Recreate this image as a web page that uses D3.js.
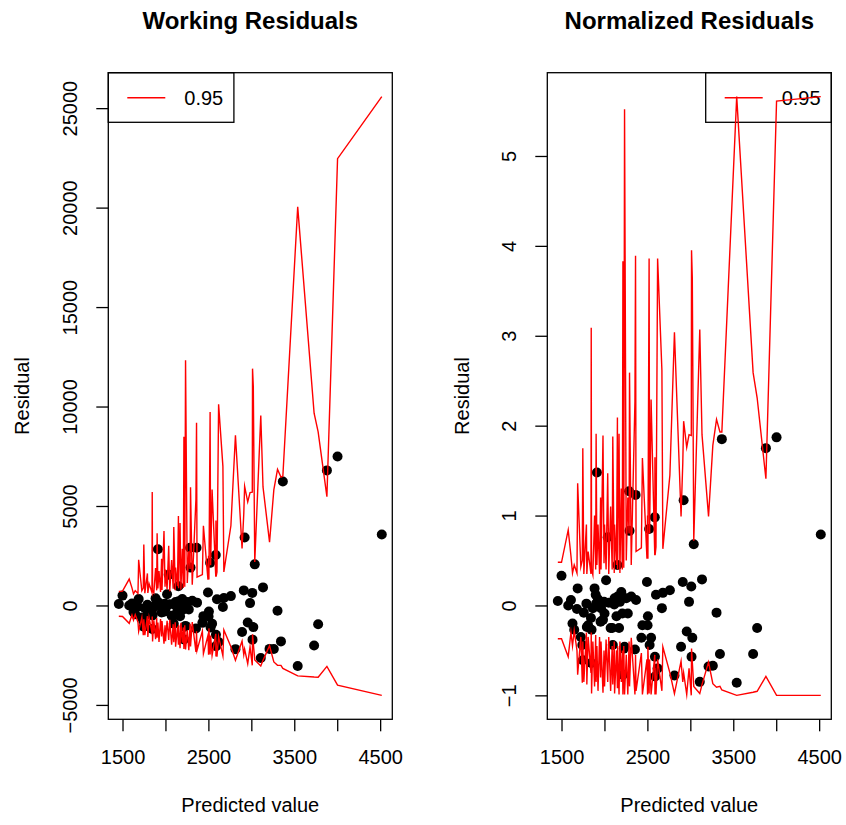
<!DOCTYPE html>
<html><head><meta charset="utf-8">
<script src="https://cdn.jsdelivr.net/npm/d3@7"></script>
<style>
body{margin:0;background:#fff}
svg{display:block}
text{font-family:"Liberation Sans",Arial,Helvetica,sans-serif;fill:#000}
</style>
</head><body>
<svg id="chart" width="846" height="825"></svg>
<script>
// ---------- data ----------
const predicted = [1457,1500,1578,1610,1628,1648,1680,1688,1725,1742,1748,1760,1790,1795,1810,1843,1846,1850,1865,1885,1898,1903,1912,1925,1943,1955,1960,1983,1995,2001,2019,2038,2050,2072,2090,2097,2114,2118,2140,2151,2153,2170,2180,2196,2208,2215,2225,2234,2254,2272,2287,2292,2312,2355,2362,2368,2430,2442,2495,2502,2506,2520,2526,2543,2586,2588,2590,2600,2619,2669,2680,2762,2815,2892,2912,2922,2958,2985,3011,3014,3023,3040,3110,3136,3212,3262,3305,3345,3367,3540,3731,3778,3880,4004,4519];

const workingResid = [73,495,0,97,-326,-445,-67,321,-604,-766,
-1066,-141,36,-431,-398,-258,-1181,-500,-56,358,
228,38,2830,135,-19,-352,-59,-317,80,-180,
565,1549,62,-518,-523,-923,21,169,-257,968,
215,-543,87,329,-199,-1706,-1068,-1028,180,-204,
2904,1902,231,-1154,2905,142,-875,-537,649,-550,
-301,2142,-1111,-915,2534,-1475,-2046,312,-1833,-80,
375,470,-2196,-1330,757,3419,-858,119,632,-1718,
-1088,2067,-2644,909,-2184,-2186,-264,-1806,6229,-3044,
-2015,-945,6790,7487,3570];

const normalizedResid = [0.05,0.33,0.00,0.06,-0.20,-0.27,-0.04,0.19,-0.35,-0.44,
-0.61,-0.08,0.02,-0.24,-0.22,-0.14,-0.64,-0.27,-0.03,0.19,
0.12,0.02,1.48,0.07,-0.01,-0.18,-0.03,-0.16,0.04,-0.09,
0.28,0.76,0.03,-0.25,-0.25,-0.44,0.01,0.08,-0.12,0.45,
0.10,-0.25,0.04,0.15,-0.09,-0.77,-0.48,-0.46,0.08,-0.09,
1.27,0.83,0.10,-0.49,1.23,0.06,-0.36,-0.22,0.26,-0.22,
-0.12,0.85,-0.44,-0.36,0.98,-0.57,-0.79,0.12,-0.70,-0.03,
0.14,0.17,-0.78,-0.46,0.26,1.17,-0.29,0.04,0.21,-0.57,
-0.36,0.68,-0.85,0.29,-0.68,-0.67,-0.08,-0.54,1.85,-0.86,
-0.54,-0.25,1.75,1.87,0.79];

const workingUpper = [699,720,1326,886,586,742,605,2296,742,871,
3059,616,1611,628,1086,645,5704,740,634,1885,
759,3635,860,1733,680,2346,784,3748,938,1801,
808,2996,718,2279,836,3942,761,1906,963,4496,
861,4145,785,2855,883,8483,935,12332,1127,2726,
1830,5936,1040,5346,9188,1421,1555,4005,1297,2502,
1303,9727,2021,5823,1448,4270,1450,1690,10109,6993,
1688,4005,8558,2863,4601,5990,5206,5672,5691,11905,
11004,2189,9548,5958,3180,5806,6841,6456,6498,20036,
9663,8727,5471,22462,25578];

const workingLower = [-539,-555,-899,-483,-733,-461,-840,-1300,-604,-1498,
-699,-1496,-537,-1580,-634,-1382,-554,-1813,-746,-1697,
-626,-1618,-860,-1829,-680,-1564,-784,-1924,-998,-1801,
-767,-1732,-718,-1968,-941,-1845,-846,-2076,-1070,-1979,
-969,-2148,-872,-1867,-1104,-2193,-1001,-2212,-1240,-2249,
-915,-2063,-832,-2331,-1299,-2250,-1288,-2418,-1497,-2477,
-1153,-2470,-1516,-2518,-1422,-2562,-1813,-2574,-1571,-2536,
-1233,-2072,-2759,-1793,-2475,-2192,-2928,-2090,-3011,-1447,
-1904,-2736,-3048,-2760,-2024,-2838,-3008,-3011,-3165,-3540,
-3600,-3608,-3065,-4004,-4519];

const normalizedUpper = [0.48,0.48,0.84,0.55,0.36,0.45,0.36,1.36,0.43,0.50,
1.75,0.35,0.90,0.35,0.60,0.35,3.09,0.40,0.34,1.00,
0.40,1.91,0.45,0.90,0.35,1.20,0.40,1.89,0.47,0.90,
0.40,1.47,0.35,1.10,0.40,1.88,0.36,0.90,0.45,2.09,
0.40,1.91,0.36,1.30,0.40,3.83,0.42,5.52,0.50,1.20,
0.80,2.59,0.45,2.27,3.89,0.60,0.64,1.64,0.52,1.00,
0.52,3.86,0.80,2.29,0.56,1.65,0.56,0.65,3.86,2.62,
0.63,1.45,3.04,0.99,1.58,2.05,1.76,1.90,1.89,3.95,
3.64,0.72,3.07,1.90,0.99,1.78,2.07,1.93,1.93,5.66,
2.59,2.31,1.41,5.61,5.66];

const normalizedLower = [-0.37,-0.37,-0.57,-0.30,-0.45,-0.28,-0.50,-0.77,-0.35,-0.86,
-0.40,-0.85,-0.30,-0.88,-0.35,-0.75,-0.30,-0.98,-0.40,-0.90,
-0.33,-0.85,-0.45,-0.95,-0.35,-0.80,-0.40,-0.97,-0.50,-0.90,
-0.38,-0.85,-0.35,-0.95,-0.45,-0.88,-0.40,-0.98,-0.50,-0.92,
-0.45,-0.99,-0.40,-0.85,-0.50,-0.99,-0.45,-0.99,-0.55,-0.99,
-0.40,-0.90,-0.36,-0.99,-0.55,-0.95,-0.53,-0.99,-0.60,-0.99,
-0.46,-0.98,-0.60,-0.99,-0.55,-0.99,-0.70,-0.99,-0.60,-0.95,
-0.46,-0.75,-0.98,-0.62,-0.85,-0.75,-0.99,-0.70,-1.00,-0.48,
-0.63,-0.90,-0.98,-0.88,-0.63,-0.87,-0.91,-0.90,-0.94,-1.00,
-0.965,-0.955,-0.79,-1.00,-1.00];

const xTickValues = [1500,2000,2500,3000,3500,4000,4500];
const xTickLabels = ["1500","","2500","","3500","","4500"];
const workingYTicks = [-5000,0,5000,10000,15000,20000,25000];
const normalizedYTicks = [-1,0,1,2,3,4,5];
const panelTitles = ["Working Residuals","Normalized Residuals"];
const xAxisTitle = "Predicted value";
const yAxisTitle = "Residual";
const legendLabel = "0.95";

// ---------- drawing ----------
const svg = d3.select("#chart");
const FS = 20;
const plotTop = 72.7, plotBottom = 719.3;

const panels = [
  {x0:108.3, x1:392.3, resid:workingResid, upper:workingUpper, lower:workingLower,
   yTicks:workingYTicks, title:panelTitles[0], legendLeft:true, yTitleX:22},
  {x0:547.3, x1:831.3, resid:normalizedResid, upper:normalizedUpper, lower:normalizedLower,
   yTicks:normalizedYTicks, title:panelTitles[1], legendLeft:false, yTitleX:462}
];

function padded(ext){ const r = ext[1]-ext[0]; return [ext[0]-0.04*r, ext[1]+0.04*r]; }
const fmt = d => d < 0 ? "\u2212" + Math.abs(d) : String(d);

panels.forEach(p => {
  const x = d3.scaleLinear().domain(padded(d3.extent(predicted))).range([p.x0, p.x1]);
  const allY = p.resid.concat(p.upper, p.lower);
  const y = d3.scaleLinear().domain(padded(d3.extent(allY))).range([plotBottom, plotTop]);
  const g = svg.append("g");

  // x axis
  const xa = g.append("g").attr("transform", `translate(0,${plotBottom})`)
    .call(d3.axisBottom(x).tickValues(xTickValues).tickSize(12)
      .tickFormat((d,i) => xTickLabels[i]));
  xa.select(".domain").remove();
  xa.selectAll(".tick line").attr("stroke","#000").attr("stroke-width",1.3);
  xa.selectAll(".tick text").attr("y",38).attr("dy","0.35em")
    .attr("font-size",FS).attr("font-family","Liberation Sans, Arial, sans-serif").attr("fill","#000");

  // y axis
  const ya = g.append("g").attr("transform", `translate(${p.x0},0)`)
    .call(d3.axisLeft(y).tickValues(p.yTicks).tickSize(12).tickFormat(fmt));
  ya.select(".domain").remove();
  ya.selectAll(".tick line").attr("stroke","#000").attr("stroke-width",1.3);
  ya.selectAll(".tick text").attr("transform","rotate(-90)")
    .attr("x",0).attr("y",-38).attr("dy","0.35em").attr("text-anchor","middle")
    .attr("font-size",FS).attr("font-family","Liberation Sans, Arial, sans-serif").attr("fill","#000");

  // legend
  const lw = 125.6, lh = 49.6;
  const lx = p.legendLeft ? p.x0 : p.x1 - lw;
  const lg = g.append("g");
  lg.append("rect").attr("x",lx).attr("y",plotTop).attr("width",lw).attr("height",lh)
    .attr("fill","#fff").attr("stroke","#000").attr("stroke-width",1.3);
  lg.append("line").attr("x1",lx+19).attr("x2",lx+57).attr("y1",plotTop+25).attr("y2",plotTop+25)
    .attr("stroke","#ff0000").attr("stroke-width",1.4);
  lg.append("text").attr("x",lx+76).attr("y",plotTop+25).attr("dy","0.35em")
    .attr("font-size",FS).text(legendLabel);

  // points
  g.append("g").selectAll("circle").data(predicted).join("circle")
    .attr("cx", d => x(d)).attr("cy", (d,i) => y(p.resid[i])).attr("r",5).attr("fill","#000");

  // envelope lines
  [p.upper, p.lower].forEach(arr => {
    const line = d3.line().x(d => x(d)).y((d,i) => y(arr[i]));
    g.append("path").attr("d", line(predicted)).attr("fill","none")
      .attr("stroke","#ff0000").attr("stroke-width",1.4).attr("stroke-linejoin","miter")
      .attr("stroke-miterlimit",10);
  });

  // box
  g.append("rect").attr("x",p.x0).attr("y",plotTop).attr("width",p.x1-p.x0).attr("height",plotBottom-plotTop)
    .attr("fill","none").attr("stroke","#000").attr("stroke-width",1.3);

  // titles
  const cx = (p.x0+p.x1)/2;
  g.append("text").attr("x",cx).attr("y",29).attr("text-anchor","middle")
    .attr("font-size",24).attr("font-weight","bold").text(p.title);
  g.append("text").attr("x",cx).attr("y",812).attr("text-anchor","middle")
    .attr("font-size",FS).text(xAxisTitle);
  g.append("text").attr("transform",`translate(${p.yTitleX},396) rotate(-90)`)
    .attr("text-anchor","middle").attr("dy","0.35em").attr("font-size",FS).text(yAxisTitle);
});
</script>
</body></html>
